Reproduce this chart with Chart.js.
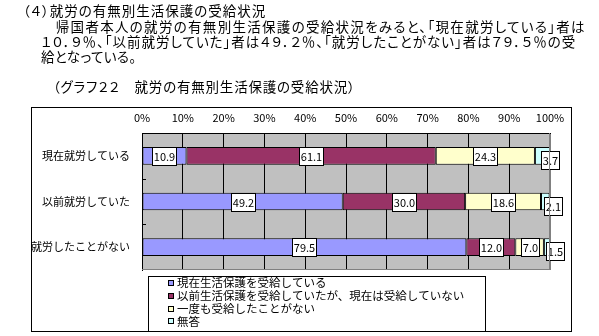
<!DOCTYPE html>
<html>
<head>
<meta charset="utf-8">
<script src="https://cdn.jsdelivr.net/npm/chart.js@4.4.1/dist/chart.umd.min.js"></script>
<style>
  body { margin: 0; background: #fff; }
  #wrap { position: relative; width: 599px; height: 336px; overflow: hidden; }
  canvas { position: absolute; left: 0; top: 0; }
  .txt {
    position: absolute; white-space: nowrap; color: #000;
    font-family: 'Noto Sans CJK JP', sans-serif; font-size: 13.5px; line-height: 15px;
    font-feature-settings: "palt"; letter-spacing: 1px;
  }
</style>
</head>
<body>
<div id="wrap">
  <canvas id="bar-chart" width="599" height="336"></canvas>
  <div class="txt" style="left:23px; top:3px;">（４）就労の有無別生活保護の受給状況</div>
  <div class="txt" style="left:41px; top:19px; letter-spacing:1.3px;">　帰国者本人の就労の有無別生活保護の受給状況をみると、「現在就労している」者は</div>
  <div class="txt" style="left:41px; top:34px;">１０．９％、「以前就労していた」者は４９．２％、「就労したことがない」者は７９．５％の受</div>
  <div class="txt" style="left:41px; top:49px; letter-spacing:0.4px;">給となっている。</div>
  <div class="txt" style="left:53px; top:79px; letter-spacing:0.8px;">（グラフ２２　就労の有無別生活保護の受給状況）</div>
</div>
<script>
// categories and series (percent)
var categories = ['現在就労している', '以前就労していた', '就労したことがない'];
var seriesNames = [
  '現在生活保護を受給している',
  '以前生活保護を受給していたが、現在は受給していない',
  '一度も受給したことがない',
  '無答'
];
var receivingNow = [10.9, 49.2, 79.5];
var receivedBefore = [61.1, 30.0, 12.0];
var neverReceived = [24.3, 18.6, 7.0];
var noAnswer = [3.7, 2.1, 1.5];
var seriesColors = ['#9999FF', '#993366', '#FFFFCC', '#CCFFFF'];

var FONT = "'Noto Sans CJK JP', sans-serif";

// gray plot background + outer frame + plot border
var framePlugin = {
  id: 'frame',
  beforeDraw: function(chart) {
    var c = chart.ctx, a = chart.chartArea;
    c.save();
    c.fillStyle = '#C0C0C0';
    c.fillRect(a.left, a.top, a.right - a.left, a.bottom - a.top);
    c.restore();
  },
  afterDraw: function(chart) {
    var c = chart.ctx, a = chart.chartArea;
    c.save();
    c.lineWidth = 1;
    c.strokeStyle = '#808080';
    c.beginPath();
    c.moveTo(Math.round(a.right) - 0.5, a.top);
    c.lineTo(Math.round(a.right) - 0.5, a.bottom);
    c.moveTo(a.left, Math.round(a.bottom) - 0.5);
    c.lineTo(a.right, Math.round(a.bottom) - 0.5);
    c.stroke();
    // small inside ticks between categories
    var y = chart.scales.y;
    c.strokeStyle = '#000';
    c.beginPath();
    for (var i = 0; i < categories.length - 1; i++) {
      var yy = Math.round((y.getPixelForValue(i) + y.getPixelForValue(i + 1)) / 2) + 0.5;
      c.moveTo(a.left, yy);
      c.lineTo(a.left + 4, yy);
    }
    c.stroke();
    // outer frame
    c.strokeStyle = '#000';
    c.strokeRect(31.5, 107.5, 540, 224);
    c.restore();
  }
};

// value boxes on each segment
var valueLabels = {
  id: 'valueLabels',
  afterDatasetsDraw: function(chart) {
    var c = chart.ctx;
    c.save();
    c.font = '11px ' + FONT;
    c.textAlign = 'center';
    c.textBaseline = 'middle';
    chart.data.datasets.forEach(function(ds, di) {
      chart.getDatasetMeta(di).data.forEach(function(bar, i) {
        var txt = ds.data[i].toFixed(1);
        var cx = (bar.x + bar.base) / 2, cy = bar.y;
        if (di === chart.data.datasets.length - 1) { cx += 8; cy += 4; }
        var w = Math.round(c.measureText(txt).width) + 3, h = 18;
        var x0 = Math.round(cx - w / 2) + 0.5, y0 = Math.round(cy - h / 2) + 0.5;
        c.fillStyle = '#fff';
        c.fillRect(x0, y0, w, h);
        c.strokeStyle = '#000';
        c.lineWidth = 1;
        c.strokeRect(x0, y0, w, h);
        c.fillStyle = '#000';
        c.fillText(txt, x0 + w / 2, y0 + h / 2 + 0.5);
      });
    });
    c.restore();
  }
};

// boxed legend under the plot, one item per row
var boxLegend = {
  id: 'boxLegend',
  afterDraw: function(chart) {
    var c = chart.ctx;
    c.save();
    c.lineWidth = 1;
    c.strokeStyle = '#000';
    c.strokeRect(148.5, 276.5, 337, 55);
    c.font = '11.5px ' + FONT;
    c.textBaseline = 'middle';
    chart.data.datasets.forEach(function(ds, i) {
      var yy = 283 + i * 12.8;
      c.fillStyle = ds.backgroundColor;
      c.fillRect(168, Math.round(yy) - 3, 6, 6);
      c.strokeRect(168.5, Math.round(yy) - 2.5, 5, 5);
      c.fillStyle = '#000';
      c.fillText(ds.label, 177, yy);
    });
    c.restore();
  }
};

var seriesData = [receivingNow, receivedBefore, neverReceived, noAnswer];

var barChart = new Chart(document.getElementById('bar-chart'), {
  type: 'bar',
  data: {
    labels: categories,
    datasets: seriesData.map(function(d, i) {
      return {
        label: seriesNames[i],
        data: d,
        backgroundColor: seriesColors[i],
        borderColor: '#000',
        borderWidth: 1,
        borderSkipped: false,
        barPercentage: 0.386,
        categoryPercentage: 1
      };
    })
  },
  options: {
    indexAxis: 'y',
    responsive: false,
    animation: false,
    devicePixelRatio: 1,
    layout: { padding: { left: 0, top: 0, right: 49, bottom: 66 } },
    plugins: { legend: { display: false }, tooltip: { enabled: false } },
    scales: {
      x: {
        position: 'top',
        stacked: true,
        min: 0,
        max: 100,
        afterFit: function(s) { s.height = 133; },
        ticks: {
          stepSize: 10,
          padding: 9,
          color: '#000',
          font: { family: FONT, size: 11 },
          callback: function(v) { return v + '%'; }
        },
        grid: {
          drawTicks: false,
          color: function(ctx) { return ctx.tick && ctx.tick.value === 100 ? '#808080' : '#000'; }
        },
        border: { color: '#000' }
      },
      y: {
        stacked: true,
        afterFit: function(s) { s.width = 142; },
        ticks: {
          padding: 12,
          color: '#000',
          font: { family: FONT, size: 11 }
        },
        grid: { display: false, drawTicks: false },
        border: { display: true, color: '#000' }
      }
    }
  },
  plugins: [framePlugin, valueLabels, boxLegend]
});
</script>
</body>
</html>
